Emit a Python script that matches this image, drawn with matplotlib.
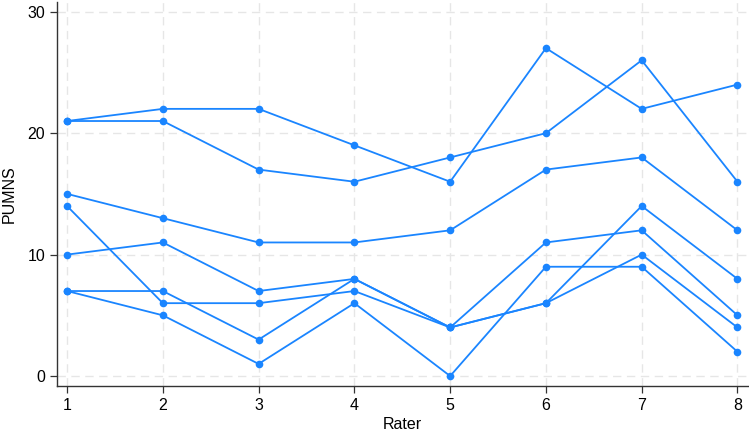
import matplotlib
matplotlib.use("Agg")
import matplotlib.pyplot as plt

# Rater positions on the x axis
raters = [1, 2, 3, 4, 5, 6, 7, 8]

# PUMNS score per subject, one list per subject
subject_a = [21, 22, 22, 19, 16, 27, 22, 24]
subject_b = [21, 21, 17, 16, 18, 20, 26, 16]
subject_c = [15, 13, 11, 11, 12, 17, 18, 12]
subject_d = [10, 11, 7, 8, 4, 11, 12, 5]
subject_e = [14, 6, 6, 7, 4, 6, 10, 4]
subject_f = [7, 7, 3, 8, 4, 6, 14, 8]
subject_g = [7, 5, 1, 6, 0, 9, 9, 2]

y_ticks = [0, 10, 20, 30]

BLUE = "#1a85ff"

plt.rcParams["font.family"] = ["Liberation Sans", "DejaVu Sans"]

fig = plt.figure(figsize=(7.49, 4.34), dpi=100)
ax = fig.add_axes([57 / 749, 48 / 434, 691 / 749, 384 / 434])

for series in [subject_a, subject_b, subject_c, subject_d,
               subject_e, subject_f, subject_g]:
  ax.plot(raters, series, color=BLUE, lw=1.3, marker="o", ms=5.5,
          markeredgewidth=0, zorder=3)

ax.set_xlim(0.895, 8.11)
ax.set_ylim(-0.82, 30.8)
ax.set_xticks(raters)
ax.set_yticks(y_ticks)
ax.tick_params(labelsize=11.5, length=5, width=0.9, color="#333333")

ax.grid(True, color="#e6e6e6", linestyle=(0, (6, 4)), lw=1.0)
ax.set_axisbelow(True)

for side in ["top", "right"]:
  ax.spines[side].set_visible(False)
for side in ["left", "bottom"]:
  ax.spines[side].set_color("#333333")
  ax.spines[side].set_linewidth(1.0)

ax.set_xlabel("Rater", fontsize=11.5, labelpad=3)
ax.set_ylabel("PUMNS", fontsize=11.5, labelpad=8)

fig.savefig("out.png", dpi=100)
